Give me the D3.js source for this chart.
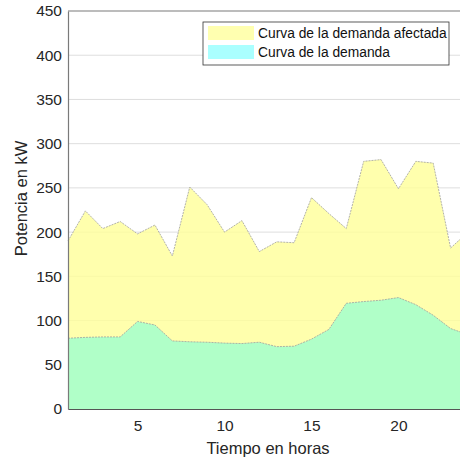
<!DOCTYPE html>
<html>
<head>
<meta charset="utf-8">
<script src="https://cdn.jsdelivr.net/npm/d3@7"></script>
<style>
  body { margin: 0; background: #fff; }
  text { font-family: "Liberation Sans", Arial, sans-serif; }
</style>
</head>
<body>
<div class="chart"></div>
<script>
// Horas y valores
const horas = d3.range(1, 25)
const demandaAfectada = [190, 224, 204, 212, 198, 208, 173, 251, 231, 200, 213, 178,
                         189, 188, 239, 221, 204, 280, 282, 249, 280, 278, 182, 200]
const demanda = [80, 81, 81.5, 81.5, 99, 95, 77, 76, 75.5, 74.5, 74, 75.5,
                 70.5, 71, 79, 90, 119.5, 121.5, 123, 126, 118, 106, 91, 84]
const yTicks = [0, 50, 100, 150, 200, 250, 300, 350, 400, 450]
const xTicks = [5, 10, 15, 20]
const leyenda = ["Curva de la demanda afectada", "Curva de la demanda"]
const colores = ["#ffffb0", "#aaffff"]

const W = 460, H = 459
const margin = {top: 11, right: -8, bottom: 50, left: 68}
const width = W - margin.left - margin.right
const height = H - margin.top - margin.bottom

const svg = d3.select(".chart").append("svg")
    .attr("width", W)
    .attr("height", H)

const g = svg.append("g")
    .attr("transform", `translate(${margin.left},${margin.top})`)

const xScale = d3.scaleLinear().domain([1, 24]).range([0, width])
const yScale = d3.scaleLinear().domain([0, 450]).range([height, 0])

// Grid
g.selectAll(".grid")
    .data(yTicks.slice(1, -1))
    .enter()
    .append("line")
        .attr("x1", 0).attr("x2", width)
        .attr("y1", d => yScale(d)).attr("y2", d => yScale(d))
        .attr("stroke", "#dedede")
        .attr("stroke-width", 1)

const area = vals => d3.area()
    .x((d, i) => xScale(horas[i]))
    .y0(yScale(0))
    .y1(d => yScale(d))(vals)
const line = vals => d3.line()
    .x((d, i) => xScale(horas[i]))
    .y(d => yScale(d))(vals)

// Curva afectada (amarilla, algo transparente)
g.append("path")
    .attr("d", area(demandaAfectada))
    .attr("fill", "#ffff99")
    .attr("fill-opacity", 0.8)
g.append("path")
    .attr("d", line(demandaAfectada))
    .attr("fill", "none")
    .attr("stroke", "#a0a0a0")
    .attr("stroke-width", 0.8)
    .attr("stroke-dasharray", "2,1")

// Curva de la demanda (verde)
g.append("path")
    .attr("d", area(demanda))
    .attr("fill", "#b0ffc8")
g.append("path")
    .attr("d", line(demanda))
    .attr("fill", "none")
    .attr("stroke", "#a0a0a0")
    .attr("stroke-width", 0.8)
    .attr("stroke-dasharray", "2,1")

// Axes
const yAxis = d3.axisLeft(yScale).tickValues(yTicks).tickSize(0).tickPadding(6)
const xAxis = d3.axisBottom(xScale).tickValues(xTicks).tickSize(0).tickPadding(9)

const yg = g.append("g").call(yAxis)
const xg = g.append("g").attr("transform", `translate(0,${height})`).call(xAxis)
;[yg, xg].forEach(a => {
    a.select(".domain").attr("stroke", "#7a7a7a").attr("stroke-width", 1.2)
    a.selectAll("text").attr("fill", "#262626").attr("font-size", 15.5)
})
xg.select(".domain").attr("stroke", "#555")
xg.selectAll("text").attr("dy", "0.85em")

// Top border
g.append("line")
    .attr("x1", 0).attr("x2", width)
    .attr("y1", 0).attr("y2", 0)
    .attr("stroke", "#7a7a7a")
    .attr("stroke-width", 1.2)

// Axis titles
svg.append("text")
    .attr("x", margin.left + xScale(12.5))
    .attr("y", 454)
    .attr("text-anchor", "middle")
    .attr("font-size", 16.5)
    .attr("fill", "#262626")
    .text("Tiempo en horas")

svg.append("text")
    .attr("transform", `translate(27,${margin.top + yScale(238)}) rotate(-90)`)
    .attr("text-anchor", "middle")
    .attr("font-size", 16.5)
    .attr("fill", "#262626")
    .text("Potencia en kW")

// Legend
const legend = svg.append("g").attr("transform", "translate(203,22)")
legend.append("rect")
    .attr("width", 246).attr("height", 43)
    .attr("fill", "#fff")
    .attr("stroke", "#333")
    .attr("stroke-width", 0.8)
legend.selectAll(".sw")
    .data(leyenda)
    .enter()
    .append("rect")
        .attr("x", 5)
        .attr("y", (_, i) => 4 + i * 19)
        .attr("width", 46)
        .attr("height", 14)
        .attr("fill", (_, i) => colores[i])
legend.selectAll(".lb")
    .data(leyenda)
    .enter()
    .append("text")
        .attr("x", 55)
        .attr("y", (_, i) => 16 + i * 19)
        .attr("font-size", 13.8)
        .attr("fill", "#111")
        .text(d => d)
</script>
</body>
</html>
